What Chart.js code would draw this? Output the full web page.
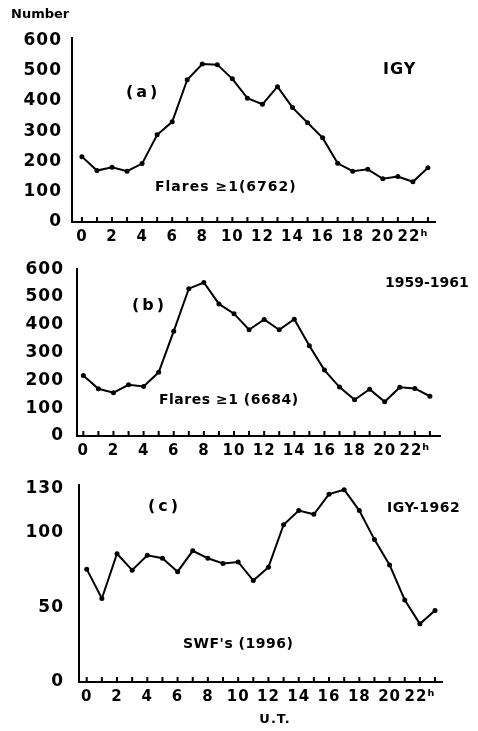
<!DOCTYPE html>
<html>
<head>
<meta charset="utf-8">
<script src="https://cdn.jsdelivr.net/npm/chart.js@4"></script>
<style>
  body { margin: 0; background: #fff; width: 478px; height: 731px; position: relative; overflow: hidden; }
  canvas { position: absolute; left: 0; }
</style>
</head>
<body>
<canvas id="chartA" width="478" height="246" style="top:0px"></canvas>
<canvas id="chartB" width="478" height="214" style="top:246px"></canvas>
<canvas id="chartC" width="478" height="271" style="top:460px"></canvas>
<script>
// hours U.T.
const hours = [0, 1, 2, 3, 4, 5, 6, 7, 8, 9, 10, 11, 12, 13, 14, 15, 16, 17, 18, 19, 20, 21, 22, 23];

// (a) IGY, flares >= 1
const flaresIGY = [216, 170, 181, 168, 193, 288, 331, 470, 522, 520, 473, 409, 389, 447, 378, 328, 278, 194, 168, 174, 143, 150, 133, 179];
// (b) 1959-1961, flares >= 1
const flares1959 = [218, 170, 156, 184, 178, 229, 377, 530, 552, 475, 440, 382, 419, 382, 420, 325, 237, 176, 130, 168, 123, 175, 171, 143];
// (c) IGY-1962, SWF's
const swfIGY1962 = [75.7, 56, 86, 75, 85, 83, 74, 88, 83, 79.5, 80.5, 68, 77, 105.5, 115, 112.5, 126, 129, 115, 95.5, 78.5, 55, 39, 48];

const flareTicks = [0, 100, 200, 300, 400, 500, 600];
const swfTicks = [0, 50, 100, 130];

const FONT = "'DejaVu Sans', sans-serif";

function hourLabel(v) {
  if (v % 2 !== 0) return "";
  return v === 22 ? "22\u02B0" : String(v);
}

function makePanel(id, cfg) {
  const textPlugin = {
    id: "extras",
    beforeDraw(chart) {
      chart.ctx.letterSpacing = "1px";
    },
    afterDraw(chart) {
      const ctx = chart.ctx;
      const xs = chart.scales.x;
      const bottom = chart.chartArea.bottom;
      ctx.save();
      ctx.strokeStyle = "#000";
      ctx.lineWidth = 2;
      hours.forEach((h) => {
        const px = xs.getPixelForValue(h);
        ctx.beginPath();
        ctx.moveTo(px, bottom);
        ctx.lineTo(px, bottom - 5);
        ctx.stroke();
      });
      ctx.fillStyle = "#000";
      ctx.textBaseline = "middle";
      cfg.labels.forEach((l) => {
        ctx.font = l.font;
        ctx.letterSpacing = l.sp || "1px";
        ctx.textAlign = l.align || "left";
        ctx.fillText(l.text, l.x, l.y);
      });
      ctx.restore();
    },
  };

  return new Chart(document.getElementById(id), {
    type: "line",
    data: {
      datasets: [
        {
          data: hours.map((h, i) => ({ x: h, y: cfg.values[i] })),
          borderColor: "#000",
          borderWidth: 2,
          pointRadius: 2.5,
          pointBackgroundColor: "#000",
          pointBorderWidth: 0,
          tension: 0,
        },
      ],
    },
    options: {
      responsive: false,
      animation: false,
      layout: { padding: { top: cfg.padTop, right: cfg.padRight, left: 0, bottom: 0 } },
      plugins: { legend: { display: false }, tooltip: { enabled: false } },
      scales: {
        x: {
          type: "linear",
          min: cfg.xMin,
          max: cfg.xMax,
          afterBuildTicks: (s) => { s.ticks = hours.map((v) => ({ value: v })); },
          afterFit: (s) => { s.height = cfg.xHeight; },
          grid: { drawOnChartArea: false, drawTicks: false },
          border: { display: true, color: "#000", width: 2 },
          ticks: {
            autoSkip: false,
            maxRotation: 0,
            padding: 6,
            color: "#000",
            font: { family: FONT, size: 15, weight: "bold" },
            callback: hourLabel,
          },
        },
        y: {
          min: 0,
          max: cfg.yMax,
          afterBuildTicks: (s) => { s.ticks = cfg.yTicks.map((v) => ({ value: v })); },
          afterFit: (s) => { s.width = cfg.yWidth; },
          grid: { drawOnChartArea: false, drawTicks: false },
          border: { display: true, color: "#000", width: 2 },
          ticks: {
            padding: cfg.yPad,
            color: "#000",
            font: { family: FONT, size: 17, weight: "bold" },
          },
        },
      },
    },
    plugins: [textPlugin],
  });
}

const big = "bold 16px " + FONT;
const mid = "bold 14px " + FONT;

makePanel("chartA", {
  values: flaresIGY,
  yTicks: flareTicks,
  yMax: 608,
  xMin: -0.66,
  xMax: 23.47,
  yWidth: 72,
  padTop: 38,
  padRight: 43,
  xHeight: 24,
  yPad: 10,
  labels: [
    { text: "Number", x: 11, y: 15, font: "bold 13px " + FONT, sp: "0px" },
    { text: "(a)", x: 126, y: 93, font: big, sp: "3px" },
    { text: "IGY", x: 383, y: 70, font: big },
    { text: "Flares \u22651(6762)", x: 155, y: 187, font: mid },
  ],
});

makePanel("chartB", {
  values: flares1959,
  yTicks: flareTicks,
  yMax: 600,
  xMin: -0.42,
  xMax: 23.67,
  yWidth: 77,
  padTop: 8,
  padRight: 38,
  xHeight: 24,
  yPad: 13,
  labels: [
    { text: "(b)", x: 132, y: 60, font: big, sp: "3px" },
    { text: "1959-1961", x: 385, y: 37, font: mid, sp: "0px" },
    { text: "Flares \u22651 (6684)", x: 159, y: 154, font: mid, sp: "0.5px" },
  ],
});

makePanel("chartC", {
  values: swfIGY1962,
  yTicks: swfTicks,
  yMax: 132,
  xMin: -0.51,
  xMax: 23.46,
  yWidth: 79,
  padTop: 24,
  padRight: 36,
  xHeight: 49,
  yPad: 15,
  labels: [
    { text: "(c)", x: 148, y: 47, font: big, sp: "3px" },
    { text: "IGY-1962", x: 387, y: 48, font: mid, sp: "0.5px" },
    { text: "SWF's (1996)", x: 183, y: 184, font: mid, sp: "0.5px" },
    { text: "U.T.", x: 275, y: 260, font: "bold 13px " + FONT, align: "center" },
  ],
});
</script>
</body>
</html>
